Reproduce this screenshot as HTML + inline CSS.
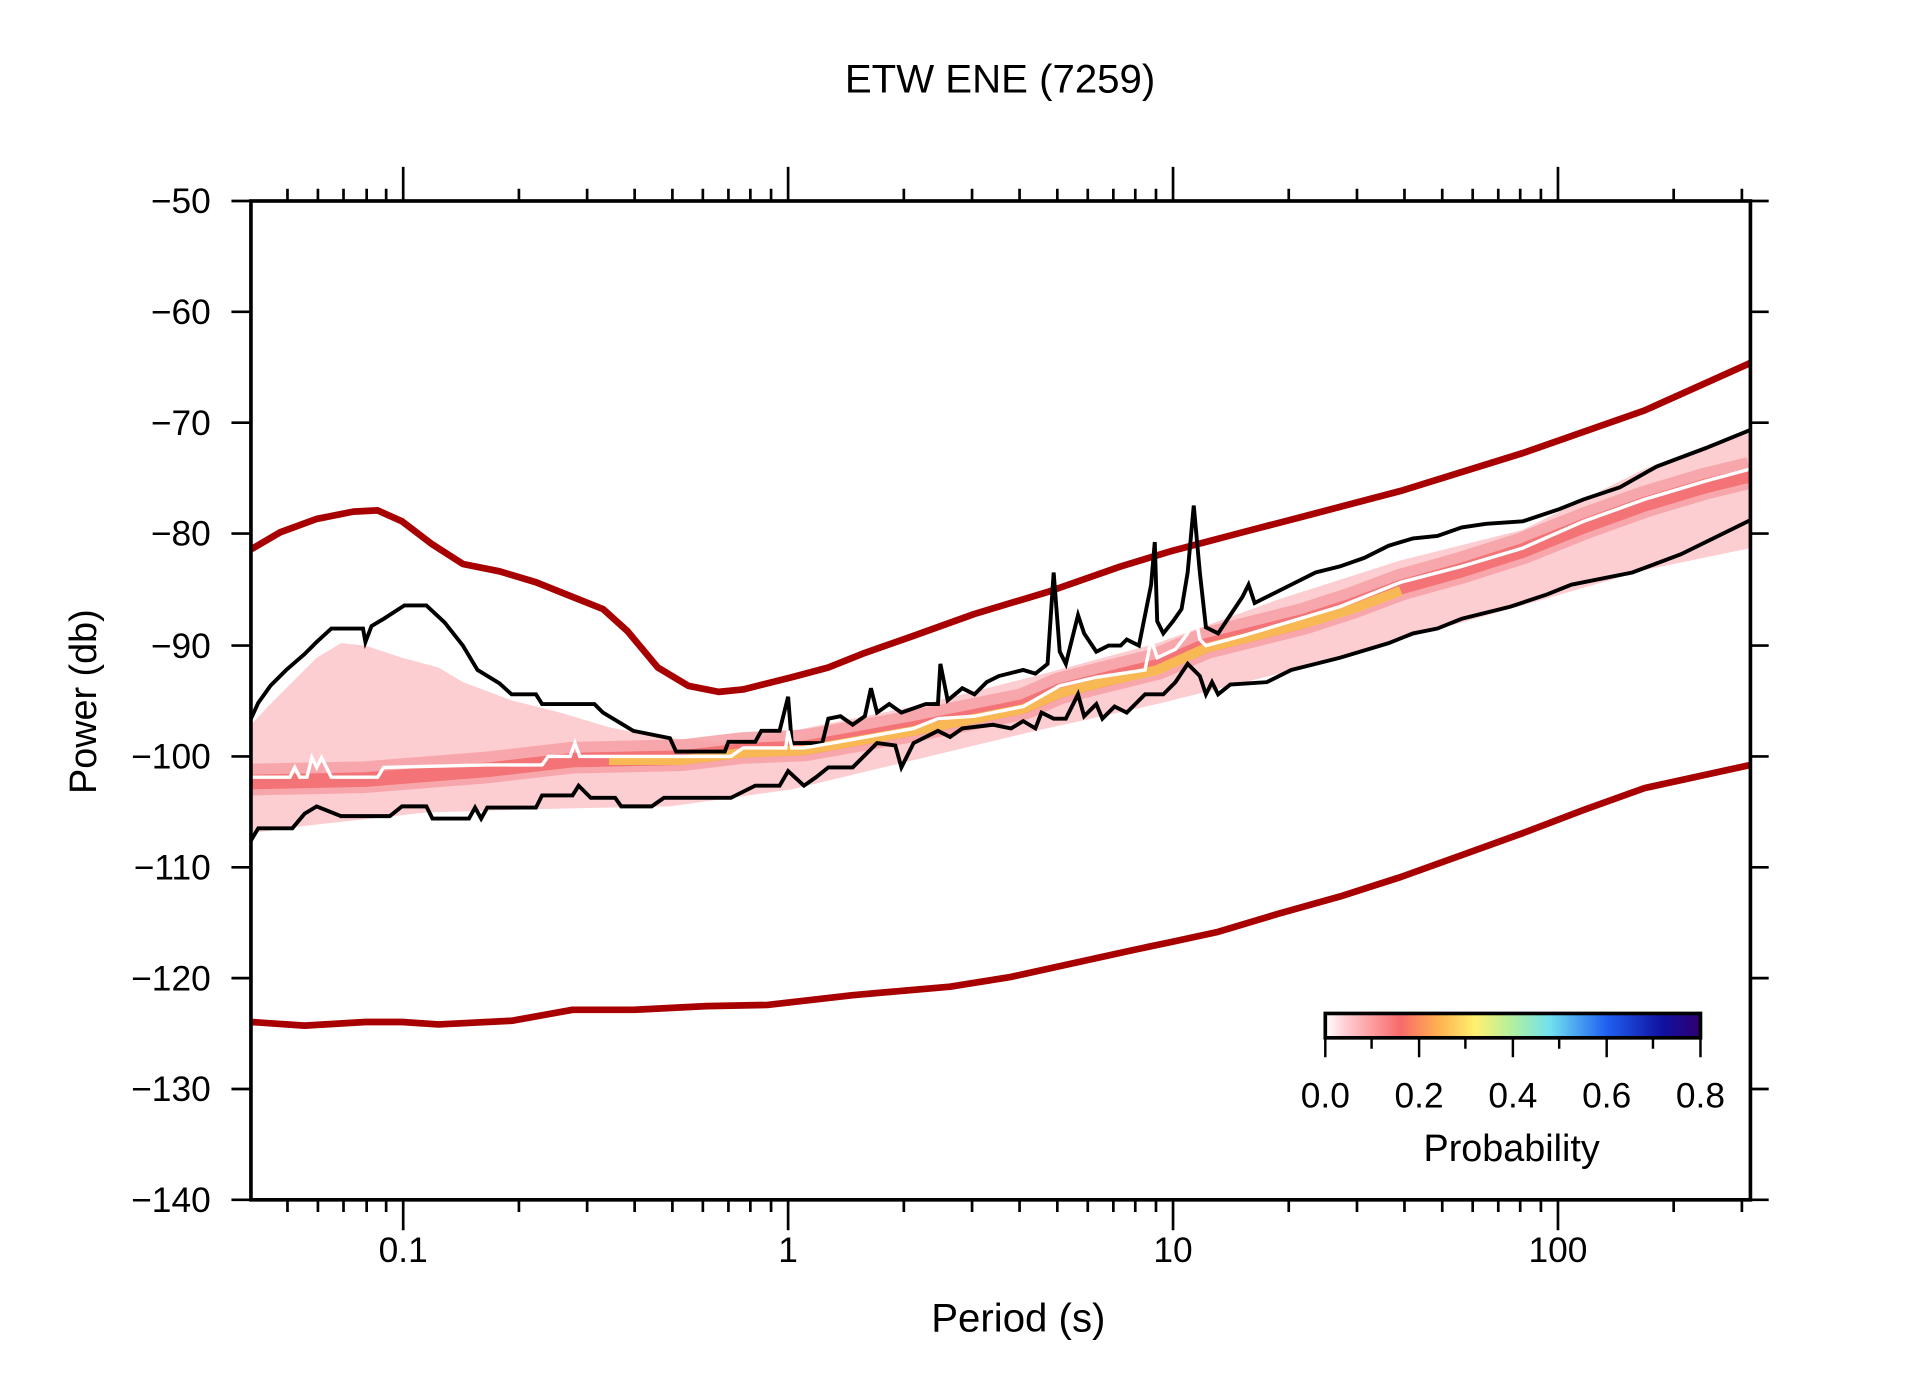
<!DOCTYPE html>
<html><head><meta charset="utf-8"><style>
html,body{margin:0;padding:0;background:#fff;}
svg{display:block;}
text{font-family:"Liberation Sans",Arial,sans-serif;fill:#000;}
</style></head><body>
<svg width="1910" height="1389" viewBox="0 0 1568 1140.3" xmlns="http://www.w3.org/2000/svg">
<defs>
<linearGradient id="cb" x1="0" x2="1" y1="0" y2="0">
<stop offset="0" stop-color="#ffffff"/>
<stop offset="0.05" stop-color="#ffd0d6"/>
<stop offset="0.2" stop-color="#f86a6a"/>
<stop offset="0.3" stop-color="#ffb050"/>
<stop offset="0.4" stop-color="#fff070"/>
<stop offset="0.5" stop-color="#b0f0a0"/>
<stop offset="0.6" stop-color="#70e0f0"/>
<stop offset="0.75" stop-color="#2060f0"/>
<stop offset="0.9" stop-color="#1010a0"/>
<stop offset="1" stop-color="#300070"/>
</linearGradient>
<clipPath id="pc"><rect x="206" y="165" width="1231" height="820"/></clipPath>
</defs>
<text x="821" y="76" font-size="33" text-anchor="middle">ETW ENE (7259)</text>

<g clip-path="url(#pc)">
<polygon fill="#fcc8cc" opacity="0.9" points="206,595 220,580 240,560 260,540 280,528 300,530 330,540 360,548 380,560 420,575 460,585 500,597 540,605 600,610 650,600 750,580 850,555 950,528 1050,492 1150,460 1250,435 1350,385 1437,352 1437,450 1350,468 1250,497 1150,525 1050,553 950,578 850,600 750,624 650,648 550,662 450,664 350,667 250,678 206,684"/>
<polyline fill="none" stroke="#f6a0a4" stroke-width="26" stroke-linejoin="round" opacity="0.85" points="206,640 300,638 400,630 470,622 560,620 610,614 660,612 700,605 750,596 800,586 840,578 870,565 910,555 950,545 990,528 1030,518 1070,508 1110,495 1150,480 1200,466 1250,450 1300,430 1350,412 1400,397 1437,388"/>
<polyline fill="none" stroke="#f26a6c" stroke-width="12" stroke-linejoin="round" opacity="0.85" points="206,642 300,640 400,632 470,624 560,622 610,616 660,614 700,607 750,598 800,588 840,580 870,567 910,557 950,547 990,530 1030,520 1070,510 1110,497 1150,482 1200,468 1250,452 1300,432 1350,414 1400,399 1437,390"/>
<polyline fill="none" stroke="#f8c050" stroke-width="8" stroke-linejoin="round" opacity="0.9" points="500,624 560,624 610,618 660,616 700,609 750,600 800,590 840,582 870,569 910,559 950,550 990,532 1030,522 1070,512 1110,500 1150,485"/>
</g>

<g fill="none" stroke="#a80000" stroke-width="5.5" stroke-linejoin="round" stroke-linecap="round" clip-path="url(#pc)">
<polyline points="206,451 230,437 260,426 290,420 310,419 330,428 355,447 380,463 410,469 440,478 470,490 495,500 515,518 540,548 565,563 590,568 610,566 650,556 680,548 710,536 750,522 800,504 860,486 920,465 963,452 1020,437 1070,424 1150,403 1250,372 1350,337 1437,298"/>
<polyline points="206,839 250,842 300,839 330,839 360,841 420,838 470,829 520,829 580,826 630,825 700,817 780,810 830,802 880,791 930,780 963,773 1000,765 1050,750 1100,736 1150,720 1200,702 1250,684 1300,665 1350,647 1437,628"/>
</g>

<g fill="none" stroke="#000" stroke-width="3.2" stroke-linejoin="miter" clip-path="url(#pc)">
<polyline points="206,590 212,577 222,563 235,550 250,537 260,527 272,516 298,516 300,527 305,514 315,508 332,497 350,497 365,511 380,530 392,550 410,561 420,570 440,570 445,578 488,578 495,585 520,600 550,606 555,617 595,617 598,609 620,609 625,600 640,600 647,572 650,610 675,610 680,590 690,588 700,595 710,588 715,565 720,585 730,578 740,585 760,578 770,578 772,545 778,575 790,565 800,570 810,560 820,555 840,550 850,553 860,545 865,470 870,535 875,545 885,505 890,520 900,535 910,530 920,530 925,525 935,530 945,480 948,445 950,510 955,520 963,510 970,500 975,470 980,415 985,470 990,515 1000,520 1010,505 1020,490 1025,480 1030,495 1040,490 1060,480 1080,470 1100,465 1120,458 1140,448 1160,442 1180,440 1200,433 1220,430 1250,428 1280,418 1300,410 1330,400 1360,383 1400,368 1437,353"/>
<polyline points="206,690 212,680 240,680 250,668 260,662 280,670 320,670 330,662 350,662 355,672 385,672 390,663 395,672 400,663 440,663 445,653 470,653 475,645 485,655 505,655 510,662 535,662 545,655 600,655 620,645 640,645 647,633 660,645 670,638 680,630 700,630 710,620 720,610 735,612 740,630 750,610 770,600 780,605 790,598 815,595 830,598 840,592 850,598 855,585 865,590 875,590 885,570 890,588 900,578 905,590 915,580 925,585 940,570 955,570 965,560 975,545 985,555 990,570 995,560 1000,570 1010,562 1040,560 1060,550 1080,545 1100,540 1140,528 1160,520 1180,516 1200,508 1240,498 1270,488 1290,480 1340,470 1380,455 1437,427"/>
</g>
<polyline fill="none" stroke="#fff" stroke-width="2.8" clip-path="url(#pc)" points="206,638 238,638 242,630 246,638 252,638 256,622 260,630 264,622 272,638 310,638 315,630 400,628 445,628 450,621 468,621 472,610 476,621 560,621 600,621 610,614 645,614 647,600 650,614 660,614 700,607 750,598 770,590 800,588 840,580 870,563 900,556 940,550 945,525 950,540 965,533 975,520 980,500 985,525 990,530 1020,522 1060,510 1100,498 1150,478 1200,465 1250,450 1300,428 1350,410 1400,395 1437,385"/>

<rect x="206" y="165" width="1231" height="820" fill="none" stroke="#000" stroke-width="3"/>
<g stroke="#000" stroke-width="2.2">
<path d="M190,165H206M190,256H206M190,347H206M190,438H206M190,530H206M190,621H206M190,712H206M190,803H206M190,894H206M190,985H206"/>
<path d="M1437,165H1452M1437,256H1452M1437,347H1452M1437,438H1452M1437,530H1452M1437,621H1452M1437,712H1452M1437,803H1452M1437,894H1452M1437,985H1452"/>
<path d="M331,165V137M647,165V137M963,165V137M1279,165V137M331,985V1010M647,985V1010M963,985V1010M1279,985V1010"/>
<path d="M236,165V155M261,165V155M282,165V155M301,165V155M317,165V155M426,165V155M482,165V155M521,165V155M552,165V155M577,165V155M598,165V155M616,165V155M633,165V155M742,165V155M798,165V155M837,165V155M868,165V155M893,165V155M914,165V155M932,165V155M949,165V155M1058,165V155M1114,165V155M1153,165V155M1184,165V155M1209,165V155M1230,165V155M1248,165V155M1265,165V155M1374,165V155M1430,165V155"/>
<path d="M236,985V995M261,985V995M282,985V995M301,985V995M317,985V995M426,985V995M482,985V995M521,985V995M552,985V995M577,985V995M598,985V995M616,985V995M633,985V995M742,985V995M798,985V995M837,985V995M868,985V995M893,985V995M914,985V995M932,985V995M949,985V995M1058,985V995M1114,985V995M1153,985V995M1184,985V995M1209,985V995M1230,985V995M1248,985V995M1265,985V995M1374,985V995M1430,985V995"/>
</g>
<g font-size="29" text-anchor="end">
<text x="173" y="175">−50</text><text x="173" y="266">−60</text><text x="173" y="357">−70</text><text x="173" y="448">−80</text><text x="173" y="540">−90</text><text x="173" y="631">−100</text><text x="173" y="722">−110</text><text x="173" y="813">−120</text><text x="173" y="904">−130</text><text x="173" y="995">−140</text>
</g>
<g font-size="29" text-anchor="middle">
<text x="331" y="1036">0.1</text><text x="647" y="1036">1</text><text x="963" y="1036">10</text><text x="1279" y="1036">100</text>
<text x="836" y="1093" font-size="33">Period (s)</text>
</g>
<text transform="translate(79,576) rotate(-90)" font-size="31" text-anchor="middle">Power (db)</text>

<rect x="1088" y="832" width="308" height="20" fill="url(#cb)" stroke="#000" stroke-width="3"/>
<path stroke="#000" stroke-width="2" d="M1088,852V868M1126,852V861M1165,852V868M1203,852V861M1242,852V868M1280,852V861M1319,852V868M1357,852V861M1396,852V868"/>
<g font-size="29" text-anchor="middle">
<text x="1088" y="909">0.0</text><text x="1165" y="909">0.2</text><text x="1242" y="909">0.4</text><text x="1319" y="909">0.6</text><text x="1396" y="909">0.8</text>
<text x="1241" y="953" font-size="31">Probability</text>
</g>
</svg>
</body></html>
